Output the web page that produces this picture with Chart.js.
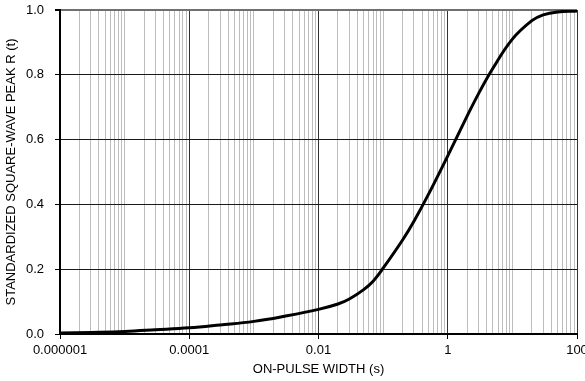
<!DOCTYPE html>
<html>
<head>
<meta charset="utf-8">
<script src="https://cdn.jsdelivr.net/npm/chart.js@4/dist/chart.umd.min.js"></script>
<style>
  html, body { margin: 0; padding: 0; background: #fff; overflow: hidden; }
  #wrap { width: 585px; height: 381px; }
</style>
</head>
<body>
<div id="wrap"><canvas id="c" width="585" height="381"></canvas></div>
<script>
// Data
const pulseWidth = [1e-6, 3e-6, 1e-5, 3e-5, 1e-4, 3e-4, 1e-3, 3e-3, 0.01, 0.02, 0.03, 0.05, 0.07, 0.1, 0.2, 0.3, 0.5, 1, 2, 3, 5, 10, 20, 30, 50, 100];
const peakR      = [0.003, 0.005, 0.008, 0.013, 0.019, 0.028, 0.039, 0.055, 0.076, 0.0925, 0.108, 0.137, 0.163, 0.203, 0.290, 0.348, 0.430, 0.550, 0.673, 0.742, 0.820, 0.910, 0.967, 0.985, 0.994, 0.997];
const xTickValues = [1e-6, 1e-4, 0.01, 1, 100];
const xTickLabels = ['0.000001', '0.0001', '0.01', '1', '100'];
const yTickValues = [0, 0.2, 0.4, 0.6, 0.8, 1.0];
const yTickLabels = ['0.0', '0.2', '0.4', '0.6', '0.8', '1.0'];
const xTitle = 'ON-PULSE WIDTH (s)';
const yTitle = 'STANDARDIZED SQUARE-WAVE PEAK R (t)';

const FONT = "'Liberation Sans', Arial, sans-serif";

function majorIndex(v) {
  return xTickValues.findIndex(t => Math.abs(Math.log10(v) - Math.log10(t)) < 1e-6);
}
function allLogTicks() {
  const out = [];
  for (let e = -6; e <= 1; e++) {
    for (let m = 1; m <= 9; m++) out.push(m * Math.pow(10, e));
  }
  out.push(100);
  return out;
}

const points = pulseWidth.map((x, i) => ({ x: x, y: peakR[i] }));

new Chart(document.getElementById('c'), {
  type: 'line',
  data: {
    datasets: [{
      data: points,
      borderColor: '#000',
      borderWidth: 3,
      pointRadius: 0,
      fill: false,
      tension: 0.4,
      capBezierPoints: true
    }]
  },
  options: {
    responsive: false,
    animation: false,
    devicePixelRatio: 1,
    layout: { padding: { top: 10, left: 0, right: 0, bottom: 0 } },
    plugins: { legend: { display: false }, tooltip: { enabled: false } },
    scales: {
      x: {
        type: 'logarithmic',
        min: 1e-6,
        max: 100,
        afterBuildTicks: (scale) => { scale.ticks = allLogTicks().map(v => ({ value: v })); },
        afterFit: (scale) => { scale.height = 47; scale.paddingRight = 8; scale.paddingLeft = 0; },
        ticks: {
          autoSkip: false,
          maxRotation: 0,
          minRotation: 0,
          padding: 4,
          color: '#000',
          font: { family: FONT, size: 13 },
          callback: (v) => { const i = majorIndex(v); return i >= 0 ? xTickLabels[i] : ''; }
        },
        grid: {
          drawTicks: true,
          tickLength: 5,
          lineWidth: 1,
          color: (ctx) => (ctx.tick && majorIndex(ctx.tick.value) >= 0) ? '#333' : '#bdbdbd',
          tickColor: (ctx) => (ctx.tick && majorIndex(ctx.tick.value) >= 0) ? '#000' : 'rgba(0,0,0,0)'
        },
        border: { display: true, color: '#000', width: 2 },
        title: {
          display: true,
          text: xTitle,
          color: '#000',
          font: { family: FONT, size: 13 },
          padding: { top: 2, bottom: 4 }
        }
      },
      y: {
        type: 'linear',
        min: 0,
        max: 1,
        afterBuildTicks: (scale) => { scale.ticks = yTickValues.map(v => ({ value: v })); },
        afterFit: (scale) => { scale.width = 60; scale.paddingTop = 0; scale.paddingBottom = 0; },
        ticks: {
          padding: 11,
          color: '#000',
          font: { family: FONT, size: 13 },
          callback: (v) => { const i = yTickValues.findIndex(t => Math.abs(t - v) < 1e-9); return i >= 0 ? yTickLabels[i] : ''; }
        },
        grid: {
          drawTicks: true,
          tickLength: 5,
          lineWidth: (ctx) => (ctx.tick && ctx.tick.value === 1) ? 2 : 1,
          color: (ctx) => (ctx.tick && ctx.tick.value === 1) ? '#707070' : '#1a1a1a',
          tickColor: '#000'
        },
        border: { display: true, color: '#000', width: 2 },
        title: {
          display: true,
          text: yTitle,
          color: '#000',
          font: { family: FONT, size: 13 },
          padding: { top: 4, bottom: 4 }
        }
      }
    }
  }
});
</script>
</body>
</html>
